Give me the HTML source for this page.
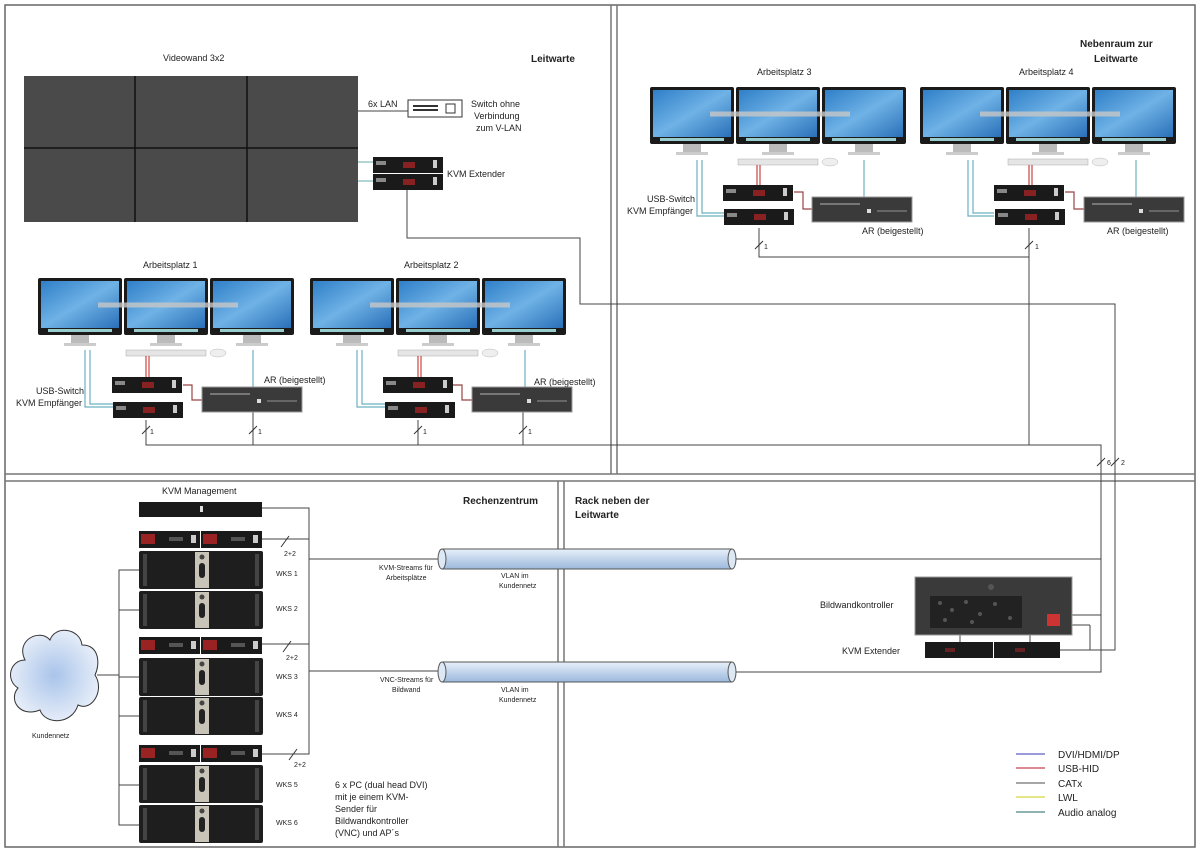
<!DOCTYPE html>
<html><head><meta charset="utf-8"><style>
body{margin:0;background:#fff}
svg{display:block;font-family:"Liberation Sans",sans-serif}
</style></head><body>
<svg width="1200" height="850" viewBox="0 0 1200 850" xmlns="http://www.w3.org/2000/svg">
<defs>
<linearGradient id="scr" x1="0" y1="0" x2="1" y2="1"><stop offset="0" stop-color="#2f7fc8"/><stop offset="0.5" stop-color="#6fb2e6"/><stop offset="1" stop-color="#2a70b8"/></linearGradient>
<linearGradient id="tube" x1="0" y1="0" x2="0" y2="1"><stop offset="0" stop-color="#e8f0fa"/><stop offset="1" stop-color="#9ab8dc"/></linearGradient>
<radialGradient id="cloud"><stop offset="0" stop-color="#a9c4ea"/><stop offset="1" stop-color="#e4ecf8"/></radialGradient>
<g id="mon">
 <rect x="0" y="0" width="84" height="57" fill="#1a1a1a" rx="2"/>
 <rect x="3" y="3" width="78" height="47" fill="url(#scr)"/>
 <rect x="10" y="51" width="64" height="3" fill="#9cc"/>
 <rect x="33" y="57" width="18" height="9" fill="#bbb"/>
 <rect x="26" y="65" width="32" height="3" fill="#ccc"/>
</g>
<g id="ap">
 <use href="#mon" x="0" y="0"/><use href="#mon" x="86" y="0"/><use href="#mon" x="172" y="0"/>
 <line x1="60" y1="27" x2="200" y2="27" stroke="#c8c8c8" stroke-width="5" opacity="0.8"/>
 <rect x="88" y="72" width="80" height="6" fill="#e5e5e5" stroke="#aaa" stroke-width="0.5"/>
 <ellipse cx="180" cy="75" rx="8" ry="4" fill="#eee" stroke="#bbb" stroke-width="0.5"/>
</g>
<g id="box"><rect width="70" height="16" fill="#1a1a1a"/><rect x="3" y="4" width="10" height="4" fill="#888"/><rect x="30" y="5" width="12" height="6" fill="#822"/><rect x="60" y="3" width="4" height="8" fill="#ccc"/></g>
<g id="pc"><rect width="100" height="25" fill="#3a3a3a" stroke="#999" stroke-width="1"/><rect x="8" y="6" width="40" height="2" fill="#777"/><rect x="55" y="12" width="4" height="4" fill="#ddd"/><rect x="65" y="13" width="30" height="2" fill="#666"/></g>
<g id="wks"><rect width="124" height="38" fill="#1e1e1e" rx="2"/><rect x="4" y="3" width="4" height="32" fill="#444"/><rect x="116" y="3" width="4" height="32" fill="#444"/><rect x="56" y="1" width="14" height="36" fill="#c9c4b8"/><rect x="60" y="12" width="6" height="15" rx="3" fill="#222"/><circle cx="63" cy="6" r="2.5" fill="#444"/></g>
<g id="snd"><rect width="61" height="17" fill="#1a1a1a"/><rect x="2" y="3" width="14" height="10" fill="#922"/><rect x="30" y="6" width="14" height="4" fill="#555"/><rect x="52" y="4" width="5" height="8" fill="#ccc"/></g>
</defs>

<rect x="5" y="5" width="1190" height="842" fill="none" stroke="#666" stroke-width="1.5"/>
<line x1="611" y1="5" x2="611" y2="474" stroke="#777" stroke-width="1.5"/>
<line x1="617" y1="5" x2="617" y2="474" stroke="#777" stroke-width="1.5"/>
<line x1="5" y1="474" x2="1195" y2="474" stroke="#777" stroke-width="1.5"/>
<line x1="5" y1="481" x2="1195" y2="481" stroke="#777" stroke-width="1.5"/>
<line x1="558" y1="481" x2="558" y2="847" stroke="#777" stroke-width="1.5"/>
<line x1="564" y1="481" x2="564" y2="847" stroke="#777" stroke-width="1.5"/>

<g fill="#222" font-size="9">
<text x="163" y="61">Videowand 3x2</text>
<text x="531" y="62" font-weight="bold" font-size="10">Leitwarte</text>
<text x="1080" y="47" font-weight="bold" font-size="10">Nebenraum zur</text>
<text x="1094" y="62" font-weight="bold" font-size="10">Leitwarte</text>
<text x="368" y="107">6x LAN</text>
<text x="471" y="107">Switch ohne</text>
<text x="474" y="119">Verbindung</text>
<text x="476" y="131">zum V-LAN</text>
<text x="447" y="177">KVM Extender</text>
<text x="143" y="268">Arbeitsplatz 1</text>
<text x="404" y="268">Arbeitsplatz 2</text>
<text x="757" y="75">Arbeitsplatz 3</text>
<text x="1019" y="75">Arbeitsplatz 4</text>
<text x="36" y="394">USB-Switch</text>
<text x="16" y="406">KVM Empfänger</text>
<text x="264" y="383">AR (beigestellt)</text>
<text x="534" y="385">AR (beigestellt)</text>
<text x="647" y="202">USB-Switch</text>
<text x="627" y="214">KVM Empfänger</text>
<text x="862" y="234">AR (beigestellt)</text>
<text x="1107" y="234">AR (beigestellt)</text>
<text x="162" y="494">KVM Management</text>
<text x="463" y="504" font-weight="bold" font-size="10">Rechenzentrum</text>
<text x="575" y="504" font-weight="bold" font-size="10">Rack neben der</text>
<text x="575" y="518" font-weight="bold" font-size="10">Leitwarte</text>
<text x="276" y="576" font-size="7">WKS 1</text>
<text x="276" y="611" font-size="7">WKS 2</text>
<text x="276" y="679" font-size="7">WKS 3</text>
<text x="276" y="717" font-size="7">WKS 4</text>
<text x="276" y="787" font-size="7">WKS 5</text>
<text x="276" y="825" font-size="7">WKS 6</text>
<text x="284" y="556" font-size="7">2+2</text>
<text x="286" y="660" font-size="7">2+2</text>
<text x="294" y="767" font-size="7">2+2</text>
<text x="379" y="570" font-size="7">KVM-Streams für</text>
<text x="386" y="580" font-size="7">Arbeitsplätze</text>
<text x="380" y="682" font-size="7">VNC-Streams für</text>
<text x="392" y="692" font-size="7">Bildwand</text>
<text x="501" y="578" font-size="7">VLAN im</text>
<text x="499" y="588" font-size="7">Kundennetz</text>
<text x="501" y="692" font-size="7">VLAN im</text>
<text x="499" y="702" font-size="7">Kundennetz</text>
<text x="32" y="738" font-size="7">Kundennetz</text>
<text x="335" y="788">6 x PC (dual head DVI)</text>
<text x="335" y="800">mit je einem KVM-</text>
<text x="335" y="812">Sender für</text>
<text x="335" y="824">Bildwandkontroller</text>
<text x="335" y="836">(VNC) und AP´s</text>
<text x="820" y="608">Bildwandkontroller</text>
<text x="842" y="654">KVM Extender</text>
<text x="586" y="562" font-size="6">xxx.xxx.xxx.xxx</text>
<text x="586" y="675" font-size="6">xxx.xxx.xxx.xxx</text>
<text x="1058" y="758" font-size="10">DVI/HDMI/DP</text>
<text x="1058" y="772" font-size="10">USB-HID</text>
<text x="1058" y="787" font-size="10">CATx</text>
<text x="1058" y="801" font-size="10">LWL</text>
<text x="1058" y="816" font-size="10">Audio analog</text>
<text x="150" y="434" font-size="7">1</text><text x="258" y="434" font-size="7">1</text>
<text x="423" y="434" font-size="7">1</text><text x="528" y="434" font-size="7">1</text>
<text x="764" y="249" font-size="7">1</text><text x="1035" y="249" font-size="7">1</text>
<text x="1107" y="465" font-size="7">6</text><text x="1121" y="465" font-size="7">2</text>
</g>

<!-- legend lines -->
<g stroke-width="1.5">
<line x1="1016" y1="754" x2="1045" y2="754" stroke="#7a7ad0"/>
<line x1="1016" y1="768" x2="1045" y2="768" stroke="#d06070"/>
<line x1="1016" y1="783" x2="1045" y2="783" stroke="#888"/>
<line x1="1016" y1="797" x2="1045" y2="797" stroke="#dddd60"/>
<line x1="1016" y1="812" x2="1045" y2="812" stroke="#6a9a9a"/>
</g>

<!-- video wall -->
<rect x="24" y="76" width="334" height="146" fill="#4a4a4a"/>
<g stroke="#111" stroke-width="1.5"><line x1="135" y1="76" x2="135" y2="222"/><line x1="247" y1="76" x2="247" y2="222"/><line x1="24" y1="148" x2="358" y2="148"/></g>
<rect x="408" y="100" width="54" height="17" fill="#fff" stroke="#333"/>
<g fill="#333"><rect x="413" y="105" width="25" height="2"/><rect x="413" y="109" width="25" height="2"/><rect x="446" y="104" width="9" height="9" fill="none" stroke="#333"/></g>
<g stroke="#444" stroke-width="1" fill="none">
<line x1="358" y1="111" x2="408" y2="111"/>
<line x1="358" y1="162" x2="373" y2="162" stroke="#6aa"/>
<line x1="358" y1="181" x2="373" y2="181" stroke="#6aa"/>
<polyline points="407,190 407,238 580,238 580,304 1115,304 1115,650 1060,650"/>
<polyline points="146,420 146,445 1101,445 1101,672 735,672"/>
<line x1="253" y1="412" x2="253" y2="445"/>
<line x1="418" y1="420" x2="418" y2="445"/>
<line x1="523" y1="412" x2="523" y2="445"/>
<polyline points="759,228 759,257 1029,257 1029,445"/>
<line x1="1029" y1="228" x2="1029" y2="257"/>
<line x1="735" y1="559" x2="1101" y2="559"/>
<line x1="1072" y1="615" x2="1101" y2="615"/>
<line x1="1072" y1="625" x2="1090" y2="625"/><line x1="1090" y1="625" x2="1090" y2="650"/>
<polyline points="262,508 309,508 309,754 262,754"/>
<line x1="262" y1="539" x2="309" y2="539"/>
<line x1="262" y1="644" x2="309" y2="644"/>
<line x1="309" y1="559" x2="440" y2="559"/>
<line x1="309" y1="671" x2="440" y2="671"/>
<polyline points="139,570 119,570 119,825 139,825"/>
<line x1="119" y1="610" x2="139" y2="610"/><line x1="119" y1="677" x2="139" y2="677"/><line x1="119" y1="716" x2="139" y2="716"/><line x1="119" y1="785" x2="139" y2="785"/>
<line x1="97" y1="675" x2="119" y2="675"/>
<line x1="960" y1="635" x2="960" y2="642"/><line x1="1030" y1="635" x2="1030" y2="642"/>
</g>
<!-- tick marks -->
<g stroke="#333" stroke-width="1">
<line x1="142" y1="434" x2="150" y2="426"/><line x1="249" y1="434" x2="257" y2="426"/>
<line x1="414" y1="434" x2="422" y2="426"/><line x1="519" y1="434" x2="527" y2="426"/>
<line x1="755" y1="249" x2="763" y2="241"/><line x1="1025" y1="249" x2="1033" y2="241"/>
<line x1="1097" y1="466" x2="1105" y2="458"/><line x1="1111" y1="466" x2="1119" y2="458"/>
<line x1="281" y1="547" x2="289" y2="536"/><line x1="283" y1="652" x2="291" y2="641"/><line x1="289" y1="760" x2="297" y2="749"/>
</g>

<!-- workstations -->
<use href="#ap" x="38" y="278"/>
<use href="#ap" x="310" y="278"/>
<use href="#ap" x="650" y="87"/>
<use href="#ap" x="920" y="87"/>

<!-- AP1 -->
<g fill="none" stroke-width="1.2">
<polyline points="85,350 85,407 113,407" stroke="#6ab0c0"/><polyline points="90,350 90,404 113,404" stroke="#6ab0c0"/>
<line x1="146" y1="356" x2="146" y2="377" stroke="#c44"/><line x1="149" y1="356" x2="149" y2="377" stroke="#c44"/>
<polyline points="183,385 192,385 192,400 202,400" stroke="#944"/>
<line x1="253" y1="350" x2="253" y2="387" stroke="#6ab0c0"/>
<polyline points="357,350 357,407 385,407" stroke="#6ab0c0"/><polyline points="362,350 362,404 385,404" stroke="#6ab0c0"/>
<line x1="418" y1="356" x2="418" y2="377" stroke="#c44"/><line x1="421" y1="356" x2="421" y2="377" stroke="#c44"/>
<polyline points="452,385 462,385 462,400 472,400" stroke="#944"/>
<line x1="525" y1="350" x2="525" y2="387" stroke="#6ab0c0"/>
<polyline points="697,160 697,216 724,216" stroke="#6ab0c0"/><polyline points="702,160 702,213 724,213" stroke="#6ab0c0"/>
<line x1="757" y1="165" x2="757" y2="185" stroke="#c44"/><line x1="760" y1="165" x2="760" y2="185" stroke="#c44"/>
<polyline points="794,192 803,192 803,209 812,209" stroke="#944"/>
<line x1="864" y1="160" x2="864" y2="197" stroke="#6ab0c0"/>
<polyline points="968,160 968,216 994,216" stroke="#6ab0c0"/><polyline points="973,160 973,213 994,213" stroke="#6ab0c0"/>
<line x1="1029" y1="165" x2="1029" y2="185" stroke="#c44"/><line x1="1032" y1="165" x2="1032" y2="185" stroke="#c44"/>
<polyline points="1065,192 1074,192 1074,209 1084,209" stroke="#944"/>
<line x1="1136" y1="160" x2="1136" y2="197" stroke="#6ab0c0"/>
</g>
<use href="#box" x="112" y="377"/><use href="#box" x="113" y="402"/><use href="#pc" x="202" y="387"/>
<use href="#box" x="383" y="377"/><use href="#box" x="385" y="402"/><use href="#pc" x="472" y="387"/>
<use href="#box" x="723" y="185"/><use href="#box" x="724" y="209"/><use href="#pc" x="812" y="197"/>
<use href="#box" x="994" y="185"/><use href="#box" x="995" y="209"/><use href="#pc" x="1084" y="197"/>
<use href="#box" x="373" y="157"/><use href="#box" x="373" y="174"/>

<!-- rack -->
<rect x="139" y="502" width="123" height="15" fill="#1a1a1a"/><rect x="200" y="506" width="3" height="6" fill="#ddd"/>
<use href="#snd" x="139" y="531"/><use href="#snd" x="201" y="531"/>
<use href="#wks" x="139" y="551"/><use href="#wks" x="139" y="591"/>
<use href="#snd" x="139" y="637"/><use href="#snd" x="201" y="637"/>
<use href="#wks" x="139" y="658"/><use href="#wks" x="139" y="697"/>
<use href="#snd" x="139" y="745"/><use href="#snd" x="201" y="745"/>
<use href="#wks" x="139" y="765"/><use href="#wks" x="139" y="805"/>

<!-- cloud -->
<path d="M25,660 C15,640 40,628 50,640 C55,625 80,628 82,645 C100,645 100,665 95,675 C105,690 92,712 78,705 C72,725 45,725 40,710 C20,718 8,700 18,688 C5,680 10,660 25,660 Z" fill="url(#cloud)" stroke="#333" stroke-width="1"/>

<!-- tubes -->
<rect x="442" y="549" width="290" height="20" fill="url(#tube)" stroke="#555"/>
<ellipse cx="442" cy="559" rx="4" ry="10" fill="#dde8f5" stroke="#555"/>
<ellipse cx="732" cy="559" rx="4" ry="10" fill="#dde8f5" stroke="#555"/>
<rect x="442" y="662" width="290" height="20" fill="url(#tube)" stroke="#555"/>
<ellipse cx="442" cy="672" rx="4" ry="10" fill="#dde8f5" stroke="#555"/>
<ellipse cx="732" cy="672" rx="4" ry="10" fill="#dde8f5" stroke="#555"/>

<!-- Bildwandkontroller -->
<rect x="915" y="577" width="157" height="58" fill="#3a3a3a" stroke="#999"/>
<rect x="930" y="596" width="92" height="32" fill="#222"/>
<g fill="#555"><circle cx="940" cy="603" r="2"/><circle cx="952" cy="610" r="2"/><circle cx="966" cy="602" r="2"/><circle cx="980" cy="614" r="2"/><circle cx="995" cy="604" r="2"/><circle cx="1010" cy="618" r="2"/><circle cx="945" cy="620" r="2"/><circle cx="972" cy="622" r="2"/></g>
<rect x="1047" y="614" width="13" height="12" fill="#c33"/>
<circle cx="991" cy="587" r="3" fill="#555"/>
<rect x="925" y="642" width="68" height="16" fill="#1a1a1a"/><rect x="994" y="642" width="66" height="16" fill="#1a1a1a"/>
<rect x="945" y="648" width="10" height="4" fill="#622"/><rect x="1015" y="648" width="10" height="4" fill="#622"/>
</svg>
</body></html>
